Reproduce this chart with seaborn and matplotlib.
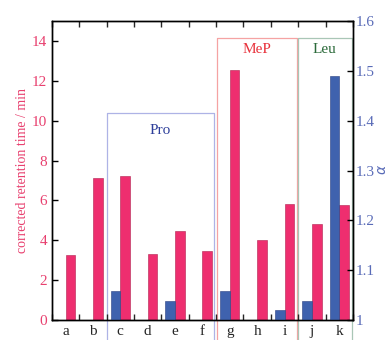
import matplotlib
matplotlib.use("Agg")
import matplotlib.pyplot as plt
import seaborn as sns
import pandas as pd
import numpy as np

# data
categories = ['a', 'b', 'c', 'd', 'e', 'f', 'g', 'h', 'i', 'j', 'k']
retention_time = [3.25, 7.1, 7.2, 3.3, 4.45, 3.45, 12.55, 4.0, 5.8, 4.8, 5.75]
alpha_cats = ['c', 'e', 'g', 'i', 'j', 'k']
alpha_vals = [1.059, 1.039, 1.059, 1.019, 1.039, 1.49]
time_ticks = [0, 2, 4, 6, 8, 10, 12, 14]
alpha_ticks = [1.0, 1.1, 1.2, 1.3, 1.4, 1.5, 1.6]
alpha_ticklabels = ['1', '1.1', '1.2', '1.3', '1.4', '1.5', '1.6']

red = '#ee2e6f'
blue = '#3f62ae'
tick_red = '#e8406f'
tick_blue = '#5a6cb8'

df_time = pd.DataFrame({'cat': categories, 'val': retention_time, 'series': 'time'})
df_alpha = pd.DataFrame({'cat': alpha_cats, 'val': alpha_vals, 'series': 'alpha'})

sns.set_style('ticks')
plt.rcParams['font.family'] = ['Liberation Serif', 'DejaVu Serif']

fig = plt.figure(figsize=(3.9, 3.4), dpi=100)
ax = fig.add_axes([0.133, 0.059, 0.772, 0.879])
ax2 = ax.twinx()

pal = {'alpha': blue, 'time': red}
sns.barplot(data=df_time, x='cat', y='val', hue='series', order=categories,
            hue_order=['alpha', 'time'], palette=pal, width=0.71, dodge=True, ax=ax,
            edgecolor='#b0204f', linewidth=0.4, legend=False, saturation=1)
sns.barplot(data=df_alpha, x='cat', y='val', hue='series', order=categories,
            hue_order=['alpha', 'time'], palette=pal, width=0.71, dodge=True, ax=ax2,
            edgecolor='#2a3f80', linewidth=0.4, legend=False, saturation=1)

ax.set_xlim(-0.5, 10.5)
ax.set_ylim(0, 15)
ax2.set_ylim(1.0, 1.6)
ax.set_yticks(time_ticks)
ax2.set_yticks(alpha_ticks)
ax2.set_yticklabels(alpha_ticklabels)

ax.set_xlabel('')
ax.set_ylabel('corrected retention time / min', color=tick_red, fontsize=10, labelpad=2)
ax2.set_ylabel('')
ax2.set_xlabel('')
fig.text(0.981, 0.5, r'$\alpha$', color=tick_blue, fontsize=10, rotation=90,
         ha='center', va='center', style='italic')

ax.tick_params(axis='y', direction='in', colors=tick_red, labelsize=11, length=4, width=1)
ax.tick_params(axis='y', which='both', color='black')
ax2.tick_params(axis='y', direction='in', labelcolor=tick_blue, labelsize=11, length=4,
                width=1, color='black', pad=2)
ax.set_xticks(np.arange(len(categories)))
ax.set_xticklabels(categories)
ax.set_xticks(np.arange(len(categories) + 1) - 0.5, minor=True)
ax.tick_params(axis='x', which='major', length=0, labelsize=11, pad=4)
ax.tick_params(axis='x', which='minor', direction='in', length=4, width=1,
               top=True, bottom=True)

for a in (ax, ax2):
    for s in a.spines.values():
        s.set_visible(True)
        s.set_color('black')
        s.set_linewidth(1)

# group boxes
groups = [
    ('Pro', 1.51, 5.42, 10.4, '#aeb3e6', '#2e3f9a', 3.45, 9.5),
    ('MeP', 5.52, 8.45, 14.15, '#f5a3a3', '#e8323c', 6.98, 13.55),
    ('Leu', 8.49, 10.45, 14.15, '#a9c6b6', '#2b6a3a', 9.47, 13.55),
]
for name, x0, x1, top, lc, tc, tx, ty in groups:
    ax.plot([x0, x0, x1, x1], [-1.1, top, top, -1.1], color=lc, lw=0.9,
            clip_on=False, zorder=0.5)
    ax.text(tx, ty, name, color=tc, fontsize=11, ha='center', va='center')

fig.savefig('out.png', dpi=100)
